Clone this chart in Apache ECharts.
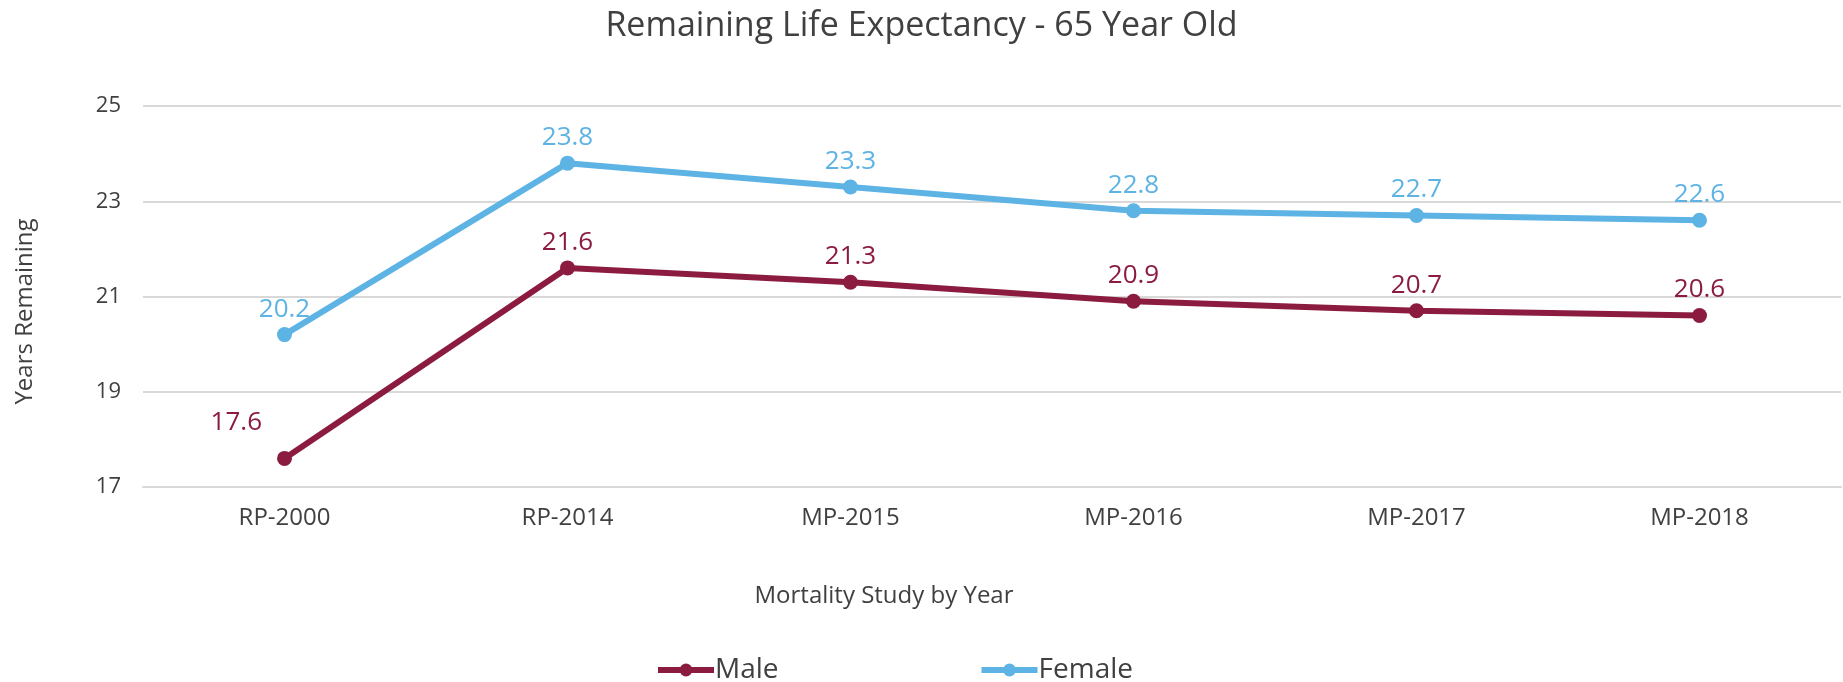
<!DOCTYPE html>
<html>
<head>
<meta charset="utf-8">
<title>Remaining Life Expectancy - 65 Year Old</title>
<script src="https://cdn.jsdelivr.net/npm/echarts@6/dist/echarts.min.js"></script>
<style>
  html, body { margin: 0; padding: 0; background: #fff; }
  #chart { width: 1843px; height: 682px; }
</style>
</head>
<body>
<div id="chart"></div>
<script>
// mortality tables
var studies = ['RP-2000', 'RP-2014', 'MP-2015', 'MP-2016', 'MP-2017', 'MP-2018']
var male = [17.6, 21.6, 21.3, 20.9, 20.7, 20.6]
var female = [20.2, 23.8, 23.3, 22.8, 22.7, 22.6]

var font = 'Open Sans'
var textColor = '#404040'

var myChart = echarts.init(document.getElementById('chart'))

// first male label sits up-left of the point
var maleData = male.map(function (v, i) {
  if (i === 0) {
    return { value: v, label: { position: 'left', offset: [-10, -36] } }
  }
  return v
})

var option = {
  animation: false,
  color: ['#8b1c40', '#5db3e4'],
  title: {
    text: 'Remaining Life Expectancy - 65 Year Old',
    left: 'center',
    top: 4,
    textStyle: {
      fontFamily: font,
      fontSize: 34,
      fontWeight: 'normal',
      color: textColor
    }
  },
  legend: {
    bottom: -7,
    left: 650,
    itemGap: 200,
    itemWidth: 56,
    itemHeight: 16,
    lineStyle: { width: 6 },
    textStyle: {
      fontFamily: font,
      fontSize: 28,
      color: textColor,
      padding: [0, 0, 0, -4]
    },
    data: ['Male', 'Female']
  },
  grid: {
    top: 106,
    left: 143,
    right: 2,
    bottom: 195
  },
  graphic: [
    {
      type: 'text',
      x: 884,
      y: 584,
      style: {
        text: 'Mortality Study by Year',
        font: '24px ' + font,
        fill: textColor,
        textAlign: 'center'
      }
    }
  ],
  xAxis: {
    type: 'category',
    data: studies,
    axisLine: { show: true, lineStyle: { color: '#d9d9d9', width: 2 } },
    axisTick: { show: false },
    axisLabel: {
      margin: 19,
      fontFamily: font,
      fontSize: 24,
      color: textColor
    }
  },
  yAxis: {
    type: 'value',
    min: 17,
    max: 25,
    interval: 2,
    name: 'Years Remaining',
    nameLocation: 'middle',
    nameGap: 106,
    nameRotate: 90,
    nameTextStyle: {
      fontFamily: font,
      fontSize: 24,
      color: textColor,
      padding: [0, 30, 0, 0]
    },
    axisLine: { show: false },
    axisTick: { show: false },
    axisLabel: {
      margin: 22,
      fontFamily: font,
      fontSize: 22,
      color: textColor
    },
    splitLine: {
      show: true,
      lineStyle: { color: '#d9d9d9', width: 2 }
    }
  },
  series: [
    {
      name: 'Male',
      type: 'line',
      data: maleData,
      symbol: 'circle',
      symbolSize: 15,
      lineStyle: { width: 6 },
      label: {
        show: true,
        position: 'top',
        distance: 5,
        fontFamily: font,
        fontSize: 26,
        color: '#8b1c40'
      }
    },
    {
      name: 'Female',
      type: 'line',
      data: female,
      symbol: 'circle',
      symbolSize: 15,
      lineStyle: { width: 6 },
      label: {
        show: true,
        position: 'top',
        distance: 5,
        fontFamily: font,
        fontSize: 26,
        color: '#5db3e4'
      }
    }
  ]
}

myChart.setOption(option)
</script>
</body>
</html>
